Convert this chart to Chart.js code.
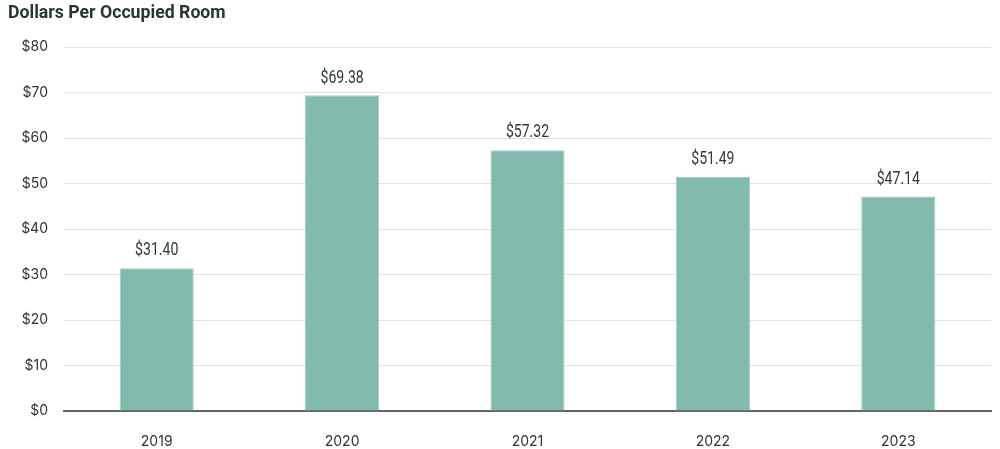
<!DOCTYPE html>
<html>
<head>
<meta charset="utf-8">
<script src="https://cdn.jsdelivr.net/npm/chart.js@4/dist/chart.umd.min.js"></script>
<style>
  html, body { margin: 0; padding: 0; background: #fff; }
  #wrap { width: 1000px; height: 449px; position: relative; }
</style>
</head>
<body>
<div id="wrap"><canvas id="popChart"></canvas></div>
<script>
// chart data
var years = ['2019', '2020', '2021', '2022', '2023'];
var dollars = [31.40, 69.38, 57.32, 51.49, 47.14];
var yTicks = [0, 10, 20, 30, 40, 50, 60, 70, 80];
var chartTitle = 'Dollars Per Occupied Room';

// labels over the bars (squeezed sideways, no condensed font installed)
var barLabels = {
  id: 'barLabels',
  afterDatasetsDraw: function (chart) {
    var ctx = chart.ctx;
    var meta = chart.getDatasetMeta(0);
    meta.data.forEach(function (bar, i) {
      ctx.save();
      ctx.translate(bar.x, bar.y - 8);
      ctx.scale(0.74, 1);
      ctx.font = '19px Roboto, "Liberation Sans", sans-serif';
      ctx.fillStyle = '#2f3a3a';
      ctx.textAlign = 'center';
      ctx.textBaseline = 'bottom';
      ctx.fillText('$' + dollars[i].toFixed(2), 0, 0);
      ctx.restore();
    });
  }
};

var ctx = document.getElementById('popChart').getContext('2d');
var popChart = new Chart(ctx, {
  type: 'bar',
  data: {
    labels: years,
    datasets: [{
      data: dollars,
      backgroundColor: '#82bbad',
      borderColor: '#a3cfc2',
      borderWidth: 1,
      barPercentage: 0.4,
      categoryPercentage: 1
    }]
  },
  options: {
    responsive: true,
    maintainAspectRatio: false,
    animation: false,
    layout: { padding: { left: 8, right: 9, top: 0, bottom: 0 } },
    plugins: {
      legend: { display: false },
      tooltip: { enabled: false },
      title: {
        display: true,
        text: chartTitle,
        align: 'start',
        color: '#263636',
        font: { family: 'Roboto, "Liberation Sans", sans-serif', size: 17.7, weight: 'bold', lineHeight: 1.2 },
        padding: { top: 3, bottom: 22.8 }
      }
    },
    scales: {
      x: {
        grid: { display: false },
        border: { display: true, color: '#5b6868', width: 2 },
        ticks: {
          color: '#333',
          padding: 14,
          font: { family: 'Inter, Roboto, sans-serif', size: 14 }
        },
        afterFit: function (scale) { scale.height = 38; }
      },
      y: {
        min: 0,
        max: 80,
        afterBuildTicks: function (scale) {
          scale.ticks = yTicks.map(function (v) { return { value: v }; });
        },
        grid: { color: '#e2e2e2', lineWidth: 1, drawTicks: false },
        border: { display: false },
        ticks: {
          color: '#333',
          padding: 16,
          font: { family: 'Inter, Roboto, sans-serif', size: 14 },
          callback: function (v) { return '$' + v; }
        },
        afterFit: function (scale) { scale.width = 56; }
      }
    }
  },
  plugins: [barLabels]
});
</script>
</body>
</html>
